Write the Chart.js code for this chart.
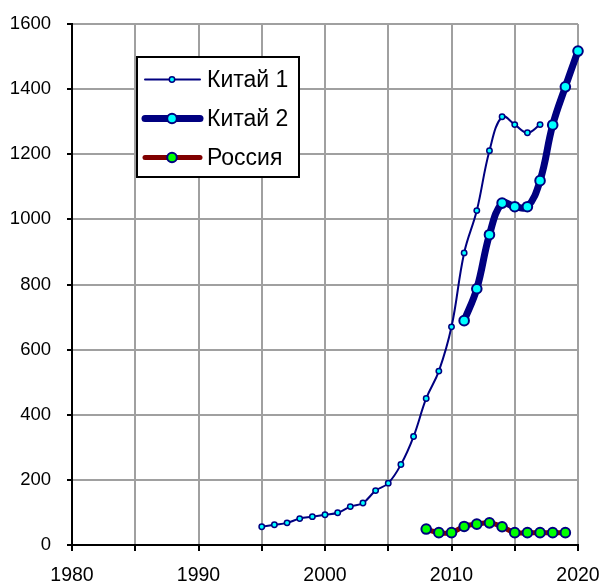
<!DOCTYPE html>
<html>
<head>
<meta charset="utf-8">
<script src="https://cdn.jsdelivr.net/npm/chart.js@4/dist/chart.umd.min.js"></script>
<style>
  html, body { margin: 0; padding: 0; background: #fff; }
  #wrap { width: 604px; height: 584px; }
</style>
</head>
<body>
<div id="wrap"><canvas id="chart" width="604" height="584"></canvas></div>
<script>
/* DATA */
const china1Years = [1995, 1996, 1997, 1998, 1999, 2000, 2001, 2002, 2003, 2004, 2005, 2006,
  2007, 2008, 2009, 2010, 2011, 2012, 2013, 2014, 2015, 2016, 2017];
const china1Values = [56, 62, 68, 81, 87, 93, 99, 118, 129, 167, 190, 247,
  333, 450, 534, 670, 897, 1027, 1211, 1315, 1291, 1266, 1291];

const china2Years = [2011, 2012, 2013, 2014, 2015, 2016, 2017, 2018, 2019, 2020];
const china2Values = [689, 787, 953, 1050, 1039, 1039, 1119, 1290, 1407, 1517];

const russiaYears = [2008, 2009, 2010, 2011, 2012, 2013, 2014, 2015, 2016, 2017, 2018, 2019];
const russiaValues = [49, 38, 38, 57, 64, 68, 56, 38, 38, 38, 38, 38];

const xTicks = [1980, 1990, 2000, 2010, 2020];
const yTicks = [0, 200, 400, 600, 800, 1000, 1200, 1400, 1600];

const NAVY = "#000080";
const CYAN = "#00ffff";
const MAROON = "#800000";
const LIME = "#00ff00";

const toPoints = (xs, ys) => xs.map((x, i) => ({ x: x, y: ys[i] }));

/* LEGEND BOX (drawn inside the plot) */
const boxLegend = {
  id: "boxLegend",
  afterDatasetsDraw(chart) {
    const ctx = chart.ctx;
    const x = 137, y = 57, w = 162, h = 120;
    ctx.save();
    ctx.fillStyle = "#fff";
    ctx.fillRect(x, y, w, h);
    ctx.lineWidth = 2;
    ctx.strokeStyle = "#000";
    ctx.strokeRect(x, y, w, h);

    const rows = [79.5, 118.5, 157.5];
    chart.data.datasets.forEach((ds, i) => {
      const cy = rows[i];
      ctx.beginPath();
      ctx.lineCap = "round";
      ctx.lineWidth = ds.borderWidth;
      ctx.strokeStyle = ds.borderColor;
      ctx.moveTo(145, cy);
      ctx.lineTo(200, cy);
      ctx.stroke();

      ctx.beginPath();
      ctx.arc(172, cy, ds.pointRadius, 0, Math.PI * 2);
      ctx.fillStyle = ds.pointBackgroundColor;
      ctx.fill();
      ctx.lineWidth = ds.pointBorderWidth;
      ctx.strokeStyle = ds.pointBorderColor;
      ctx.stroke();

      ctx.fillStyle = "#000";
      ctx.font = "23px 'Liberation Sans', Arial, sans-serif";
      ctx.textAlign = "left";
      ctx.textBaseline = "middle";
      ctx.fillText(ds.label, 207, cy + 1.5);
    });
    ctx.restore();
  }
};

const whiteBg = {
  id: "whiteBg",
  beforeDraw(chart) {
    const ctx = chart.ctx;
    ctx.save();
    ctx.fillStyle = "#fff";
    ctx.fillRect(0, 0, chart.width, chart.height);
    ctx.restore();
  }
};

/* CHART */
new Chart(document.getElementById("chart").getContext("2d"), {
  type: "line",
  data: {
    datasets: [
      {
        label: "Китай 1",
        data: toPoints(china1Years, china1Values),
        borderColor: NAVY,
        borderWidth: 2,
        tension: 0.4,
        pointRadius: 2.7,
        pointBorderWidth: 1.5,
        pointBorderColor: NAVY,
        pointBackgroundColor: CYAN,
        clip: false,
        order: 2
      },
      {
        label: "Китай 2",
        data: toPoints(china2Years, china2Values),
        borderColor: NAVY,
        borderWidth: 7,
        tension: 0.4,
        pointRadius: 4.8,
        pointBorderWidth: 2,
        pointBorderColor: NAVY,
        pointBackgroundColor: CYAN,
        clip: false,
        order: 1
      },
      {
        label: "Россия",
        data: toPoints(russiaYears, russiaValues),
        borderColor: MAROON,
        borderWidth: 5,
        tension: 0.4,
        pointRadius: 4.8,
        pointBorderWidth: 2,
        pointBorderColor: NAVY,
        pointBackgroundColor: LIME,
        clip: false,
        order: 0
      }
    ]
  },
  options: {
    responsive: false,
    animation: false,
    layout: { padding: { top: 24, right: 26, left: 0, bottom: 0 } },
    plugins: {
      legend: { display: false },
      tooltip: { enabled: false }
    },
    scales: {
      x: {
        type: "linear",
        min: 1980,
        max: 2020,
        afterFit: s => {
          s.height = 39;
          s.paddingLeft = 0;
          s.paddingRight = 0;
        },
        afterBuildTicks: s => {
          s.ticks = [];
          for (let v = 1980; v <= 2020; v += 5) s.ticks.push({ value: v });
        },
        ticks: {
          autoSkip: false,
          maxRotation: 0,
          padding: 13,
          color: "#000",
          font: { family: "'Liberation Sans', Arial, sans-serif", size: 19.5 },
          callback: v => xTicks.includes(v) ? String(v) : ""
        },
        grid: {
          color: "#a0a0a0",
          lineWidth: 2,
          tickColor: "#000",
          tickLength: 6,
          tickWidth: 2
        },
        border: { color: "#000", width: 2 }
      },
      y: {
        min: 0,
        max: 1600,
        afterFit: s => {
          s.width = 72;
          s.paddingTop = 0;
          s.paddingBottom = 0;
        },
        afterBuildTicks: s => { s.ticks = yTicks.map(v => ({ value: v })); },
        ticks: {
          padding: 16,
          color: "#000",
          font: { family: "'Liberation Sans', Arial, sans-serif", size: 18.5 },
          callback: v => String(v)
        },
        grid: {
          color: "#a0a0a0",
          lineWidth: 2,
          tickColor: "#000",
          tickLength: 5,
          tickWidth: 2
        },
        border: { color: "#000", width: 2 }
      }
    }
  },
  plugins: [whiteBg, boxLegend]
});
</script>
</body>
</html>
